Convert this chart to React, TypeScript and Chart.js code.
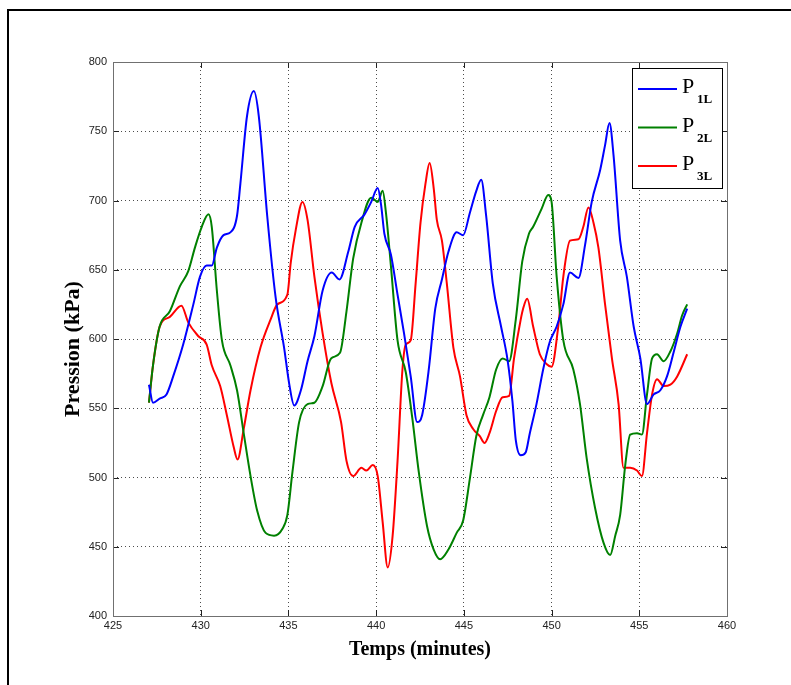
import React, { useEffect, useRef } from "react";
import { Chart, registerables } from "chart.js";

Chart.register(...registerables);

// ---- Data (time in minutes, pressure in kPa) ----
const p1Time = [427.05, 427.28, 427.66, 428.05, 428.43, 429.0, 429.58, 429.96, 430.34, 430.63, 430.92, 431.3, 431.69, 432.07, 432.26, 432.64, 433.03, 433.31, 433.79, 434.27, 434.75, 435.04, 435.33, 435.71, 436.09, 436.48, 436.95, 437.47, 437.91, 438.41, 438.78, 439.34, 439.72, 440.09, 440.28, 440.47, 440.84, 441.22, 441.59, 441.97, 442.34, 442.62, 443.0, 443.37, 443.75, 444.12, 444.59, 444.96, 445.34, 445.71, 445.99, 446.27, 446.65, 447.12, 447.49, 447.77, 447.96, 448.24, 448.52, 448.76, 449.14, 449.52, 449.9, 450.29, 450.67, 451.05, 451.53, 451.91, 452.29, 452.77, 453.05, 453.3, 453.53, 453.91, 454.29, 454.68, 455.06, 455.44, 455.82, 456.2, 456.58, 456.97, 457.35, 457.73];
const p1Values = [567, 554, 557, 560, 573, 596, 625, 645, 653, 653, 666, 675, 677, 689, 712, 761, 779, 761, 689, 630, 594, 568, 552, 563, 584, 602, 635, 648, 643, 663, 681, 690, 699, 709, 697, 676, 661, 632, 604, 573, 540, 545, 578, 622, 643, 663, 677, 675, 691, 707, 715, 689, 640, 609, 585, 555, 527, 516, 518, 532, 553, 578, 598, 609, 625, 648, 644, 668, 699, 722, 740, 756, 733, 671, 645, 609, 586, 553, 560, 563, 573, 591, 609, 622];

const p2Time = [427.05, 427.28, 427.66, 428.24, 428.81, 429.29, 429.67, 430.06, 430.44, 430.63, 430.92, 431.21, 431.69, 432.07, 432.45, 432.84, 433.22, 433.7, 434.18, 434.66, 434.94, 435.23, 435.61, 436.09, 436.48, 436.95, 437.43, 437.94, 438.31, 438.69, 439.16, 439.72, 440.09, 440.37, 440.56, 440.84, 441.22, 441.69, 442.06, 442.43, 442.9, 443.28, 443.65, 444.12, 444.59, 444.96, 445.34, 445.71, 446.09, 446.46, 446.84, 447.21, 447.58, 447.96, 448.33, 448.71, 448.95, 449.43, 449.81, 450.0, 450.29, 450.67, 451.24, 451.62, 452.0, 452.48, 452.96, 453.34, 453.63, 453.91, 454.2, 454.48, 454.87, 455.15, 455.44, 455.73, 456.01, 456.39, 456.77, 457.16, 457.44, 457.73];
const p2Values = [554, 581, 609, 620, 638, 649, 666, 681, 690, 681, 635, 599, 581, 563, 532, 501, 476, 460, 458, 463, 473, 504, 540, 553, 554, 566, 586, 590, 620, 658, 684, 702, 699, 707, 691, 653, 599, 576, 543, 504, 465, 448, 441, 448, 460, 469, 499, 530, 545, 558, 578, 586, 584, 614, 656, 676, 681, 694, 704, 699, 645, 599, 578, 553, 514, 478, 453, 444, 458, 473, 509, 531, 532, 531, 560, 586, 589, 584, 591, 604, 617, 625];

const p3Time = [427.05, 427.28, 427.66, 428.24, 428.9, 429.29, 429.87, 430.34, 430.63, 431.11, 431.49, 431.88, 432.1, 432.45, 432.84, 433.41, 433.98, 434.37, 434.94, 435.13, 435.42, 435.8, 436.09, 436.48, 436.95, 437.45, 438.0, 438.31, 438.69, 439.16, 439.44, 439.81, 440.09, 440.37, 440.66, 440.94, 441.22, 441.5, 441.69, 441.97, 442.25, 442.53, 442.81, 443.05, 443.28, 443.46, 443.75, 444.03, 444.4, 444.78, 445.15, 445.53, 445.9, 446.18, 446.46, 446.84, 447.21, 447.58, 447.86, 448.24, 448.38, 448.61, 448.95, 449.33, 449.71, 450.0, 450.38, 450.67, 451.05, 451.53, 451.81, 452.1, 452.39, 452.67, 453.05, 453.44, 453.82, 454.1, 454.48, 454.87, 455.15, 455.44, 455.73, 456.01, 456.39, 456.77, 457.16, 457.73];
const p3Values = [554, 581, 609, 616, 624, 612, 602, 596, 581, 566, 545, 522, 513, 535, 563, 594, 614, 625, 632, 655, 679, 699, 686, 645, 604, 568, 540, 512, 501, 507, 505, 509, 501, 468, 435, 458, 512, 578, 596, 599, 640, 684, 712, 727, 709, 686, 671, 640, 594, 573, 545, 535, 530, 525, 532, 548, 558, 559, 586, 614, 622, 629, 609, 589, 582, 580, 609, 645, 671, 672, 681, 695, 684, 666, 625, 586, 553, 507, 507, 505, 501, 532, 560, 571, 566, 567, 573, 589];

const seriesNames = ["P", "P", "P"];
const seriesSubscripts = ["1L", "2L", "3L"];
const seriesColors = ["#0000ff", "#008000", "#ff0000"];

const xTicks = [425, 430, 435, 440, 445, 450, 455, 460];
const yTicks = [400, 450, 500, 550, 600, 650, 700, 750, 800];

const xTitle = "Temps (minutes)";
const yTitle = "Pression (kPa)";

const toPoints = (t: number[], v: number[]) => t.map((x, i) => ({ x, y: v[i] }));

const boxPlugin = {
  id: "matlabBox",
  afterDatasetsDraw(chart: any) {
    const { ctx, chartArea: a, scales } = chart;
    ctx.save();
    ctx.strokeStyle = "#222222";
    ctx.lineWidth = 1;
    ctx.beginPath();
    const tl = 6;
    for (const v of xTicks) {
      const px = Math.round(scales.x.getPixelForValue(v)) + 0.5;
      ctx.moveTo(px, a.bottom);
      ctx.lineTo(px, a.bottom - tl);
      ctx.moveTo(px, a.top);
      ctx.lineTo(px, a.top + tl);
    }
    for (const v of yTicks) {
      const py = Math.round(scales.y.getPixelForValue(v)) + 0.5;
      ctx.moveTo(a.left, py);
      ctx.lineTo(a.left + tl, py);
      ctx.moveTo(a.right, py);
      ctx.lineTo(a.right - tl, py);
    }
    ctx.stroke();
    ctx.strokeStyle = "#707070";
    ctx.strokeRect(Math.round(a.left) + 0.5, Math.round(a.top) + 0.5, Math.round(a.right - a.left), Math.round(a.bottom - a.top));
    ctx.restore();
  },
};

const legendPlugin = {
  id: "subLegend",
  afterDraw(chart: any) {
    const { ctx, chartArea: a } = chart;
    const bx = a.right - 95;
    const by = a.top + 6;
    const bw = 90;
    const bh = 120;
    ctx.save();
    ctx.fillStyle = "#ffffff";
    ctx.fillRect(bx, by, bw, bh);
    ctx.strokeStyle = "#000000";
    ctx.lineWidth = 1;
    ctx.strokeRect(bx + 0.5, by + 0.5, bw, bh);
    for (let i = 0; i < seriesColors.length; i++) {
      const ly = by + 21 + i * 38.5;
      ctx.strokeStyle = seriesColors[i];
      ctx.lineWidth = 2;
      ctx.beginPath();
      ctx.moveTo(bx + 6, ly);
      ctx.lineTo(bx + 45, ly);
      ctx.stroke();
      ctx.fillStyle = "#000000";
      ctx.textBaseline = "alphabetic";
      ctx.textAlign = "left";
      ctx.font = "22px 'Liberation Serif', 'Times New Roman', serif";
      ctx.fillText(seriesNames[i], bx + 50, ly + 4);
      ctx.font = "bold 13px 'Liberation Serif', 'Times New Roman', serif";
      ctx.fillText(seriesSubscripts[i], bx + 65, ly + 14);
    }
    ctx.restore();
  },
};

const yTitlePlugin = {
  id: "yTitleText",
  afterDraw(chart: any) {
    const { ctx, chartArea: a } = chart;
    ctx.save();
    ctx.translate(73, (a.top + a.bottom) / 2 + 10);
    ctx.rotate(-Math.PI / 2);
    ctx.fillStyle = "#000000";
    ctx.textAlign = "center";
    ctx.textBaseline = "middle";
    ctx.font = "bold 22px 'Liberation Serif', 'Times New Roman', serif";
    ctx.fillText(yTitle, 0, 0);
    ctx.restore();
  },
};

export default function App() {
  const canvasRef = useRef<HTMLCanvasElement | null>(null);

  useEffect(() => {
    const canvas = canvasRef.current;
    if (!canvas) return;
    const tickFont = { family: "'Liberation Sans', Arial, sans-serif", size: 11 };
    const chart = new Chart(canvas, {
      type: "line",
      data: {
        datasets: [
          { label: "P1L", data: toPoints(p1Time, p1Values), borderColor: seriesColors[0] },
          { label: "P2L", data: toPoints(p2Time, p2Values), borderColor: seriesColors[1] },
          { label: "P3L", data: toPoints(p3Time, p3Values), borderColor: seriesColors[2] },
        ].map((d) => ({
          ...d,
          borderWidth: 2,
          pointRadius: 0,
          fill: false,
          cubicInterpolationMode: "monotone" as const,
        })),
      },
      options: {
        animation: false,
        responsive: false,
        maintainAspectRatio: false,
        layout: { padding: { left: 0, top: 62, right: 64, bottom: 0 } },
        plugins: { legend: { display: false }, tooltip: { enabled: false } },
        scales: {
          x: {
            type: "linear",
            min: 425,
            max: 460,
            afterBuildTicks: (s: any) => {
              s.ticks = xTicks.map((value) => ({ value }));
            },
            afterFit: (s: any) => {
              s.height = 69;
            },
            ticks: { font: tickFont, color: "#222", padding: 3, maxRotation: 0, autoSkip: false },
            grid: { drawTicks: false, color: "rgba(0,0,0,0.7)", lineWidth: 1 },
            border: { display: false, dash: [1, 3] },
            title: {
              display: true,
              text: xTitle,
              color: "#000",
              font: { family: "'Liberation Serif', 'Times New Roman', serif", size: 20, weight: "bold" },
              padding: { top: 0, bottom: 23 },
            },
          },
          y: {
            type: "linear",
            min: 400,
            max: 800,
            afterBuildTicks: (s: any) => {
              s.ticks = yTicks.map((value) => ({ value }));
            },
            afterFit: (s: any) => {
              s.width = 113;
            },
            ticks: { font: tickFont, color: "#222", padding: 6, autoSkip: false },
            grid: { drawTicks: false, color: "rgba(0,0,0,0.7)", lineWidth: 1 },
            border: { display: false, dash: [1, 3] },
          },
        },
      },
      plugins: [boxPlugin, legendPlugin, yTitlePlugin],
    } as any);
    return () => chart.destroy();
  }, []);

  return (
    <div style={{ position: "fixed", left: 0, top: 0, width: 791, height: 685, overflow: "hidden", background: "#fff" }}>
      <div
        style={{
          position: "absolute",
          left: 7,
          top: 9,
          width: 820,
          height: 720,
          border: "2px solid #000",
          boxSizing: "border-box",
        }}
      />
      <canvas ref={canvasRef} width={791} height={685} style={{ position: "absolute", left: 0, top: 0, width: 791, height: 685 }} />
    </div>
  );
}
